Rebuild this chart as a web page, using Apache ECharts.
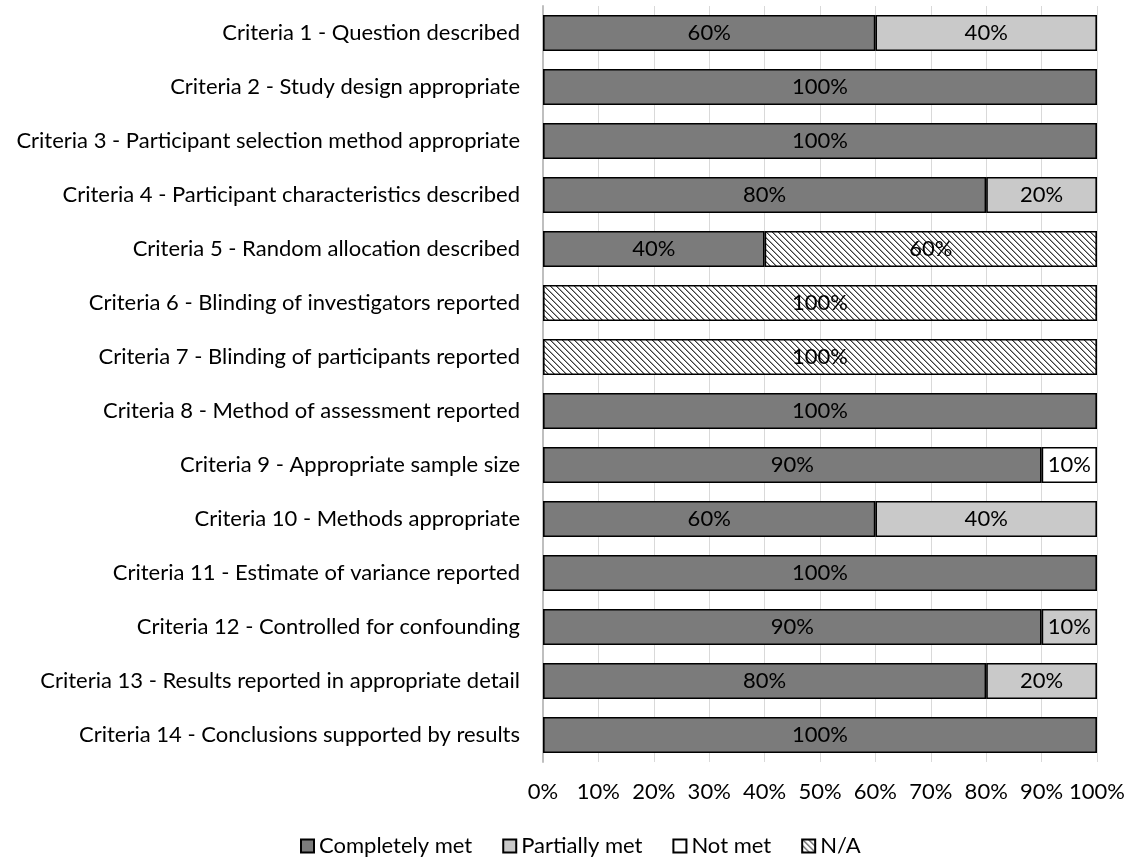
<!DOCTYPE html>
<html>
<head>
<meta charset="utf-8">
<script src="https://cdn.jsdelivr.net/npm/echarts@6/dist/echarts.min.js"></script>
<style>
  html, body { margin: 0; padding: 0; background: #fff; }
  #chart { width: 1129px; height: 858px; }
</style>
</head>
<body>
<div id="chart"></div>
<script>
// Quality assessment criteria and share of studies per rating (%)
const categories = [
  'Criteria 1 - Question described',
  'Criteria 2 - Study design appropriate',
  'Criteria 3 - Participant selection method appropriate',
  'Criteria 4 - Participant characteristics described',
  'Criteria 5 - Random allocation described',
  'Criteria 6 - Blinding of investigators reported',
  'Criteria 7 - Blinding of participants reported',
  'Criteria 8 - Method of assessment reported',
  'Criteria 9 - Appropriate sample size',
  'Criteria 10 - Methods appropriate',
  'Criteria 11 - Estimate of variance reported',
  'Criteria 12 - Controlled for confounding',
  'Criteria 13 - Results reported in appropriate detail',
  'Criteria 14 - Conclusions supported by results'
];
const completelyMet = [60, 100, 100, 80, 40, 0, 0, 100, 90, 60, 100, 90, 80, 100];
const partiallyMet  = [40, 0, 0, 20, 0, 0, 0, 0, 0, 40, 0, 10, 20, 0];
const notMet        = [0, 0, 0, 0, 0, 0, 0, 0, 10, 0, 0, 0, 0, 0];
const notApplicable = [0, 0, 0, 0, 60, 100, 100, 0, 0, 0, 0, 0, 0, 0];
const seriesNames = ['Completely met', 'Partially met', 'Not met', 'N/A'];
const xTicks = [0, 10, 20, 30, 40, 50, 60, 70, 80, 90, 100];

// Diagonal hatch tile for the N/A segments
function hatchTile() {
  const c = document.createElement('canvas');
  c.width = 6; c.height = 6;
  const ctx = c.getContext('2d');
  ctx.fillStyle = '#ffffff';
  ctx.fillRect(0, 0, 6, 6);
  ctx.fillStyle = '#3c3c3c';
  for (let i = 0; i < 6; i++) {
    ctx.fillRect(i, i, 1, 1);
  }
  ctx.fillStyle = '#a0a0a0';
  for (let i = 0; i < 6; i++) {
    ctx.fillRect((i + 1) % 6, i, 1, 1);
  }
  return c;
}

const FONT = 'Lato, "Open Sans", sans-serif';
const FS = 22;
const fills = ['#7b7b7b', '#c9c9c9', '#ffffff', { image: hatchTile(), repeat: 'repeat' }];
const values = [completelyMet, partiallyMet, notMet, notApplicable];

const chart = echarts.init(document.getElementById('chart'), null, { renderer: 'canvas' });

chart.setOption({
  animation: false,
  backgroundColor: '#ffffff',
  grid: { left: 543, right: 32, top: 6, bottom: 96, containLabel: false },
  legend: {
    data: seriesNames,
    top: 835,
    left: 300,
    padding: 0,
    itemWidth: 13,
    itemHeight: 13,
    itemGap: 30,
    textStyle: { fontFamily: FONT, fontSize: FS, color: '#000' },
    icon: 'rect'
  },
  xAxis: {
    type: 'value',
    min: 0,
    max: 100,
    interval: 10,
    axisLine: { show: false },
    axisTick: { show: false },
    splitLine: { show: true, lineStyle: { color: '#d9d9d9', width: 1 } },
    axisLabel: {
      fontFamily: FONT, fontSize: FS, color: '#000', margin: 19,
      formatter: v => xTicks.includes(v) ? v + '%' : ''
    }
  },
  yAxis: {
    type: 'category',
    inverse: true,
    data: categories,
    axisLine: { show: true, lineStyle: { color: '#bfbfbf', width: 2 } },
    axisTick: { show: false },
    axisLabel: { fontFamily: FONT, fontSize: FS, color: '#000', margin: 23 }
  },
  series: seriesNames.map((name, k) => ({
    name: name,
    type: 'bar',
    stack: 'total',
    barCategoryGap: '33%',
    data: values[k].map(v => v === 0 ? '-' : v),
    itemStyle: { color: fills[k], borderColor: '#000', borderWidth: 1.6 },
    label: {
      show: true,
      position: 'inside',
      fontFamily: FONT,
      fontSize: FS,
      color: '#000',
      formatter: p => p.value + '%'
    },
    emphasis: { disabled: true }
  }))
});
</script>
</body>
</html>
